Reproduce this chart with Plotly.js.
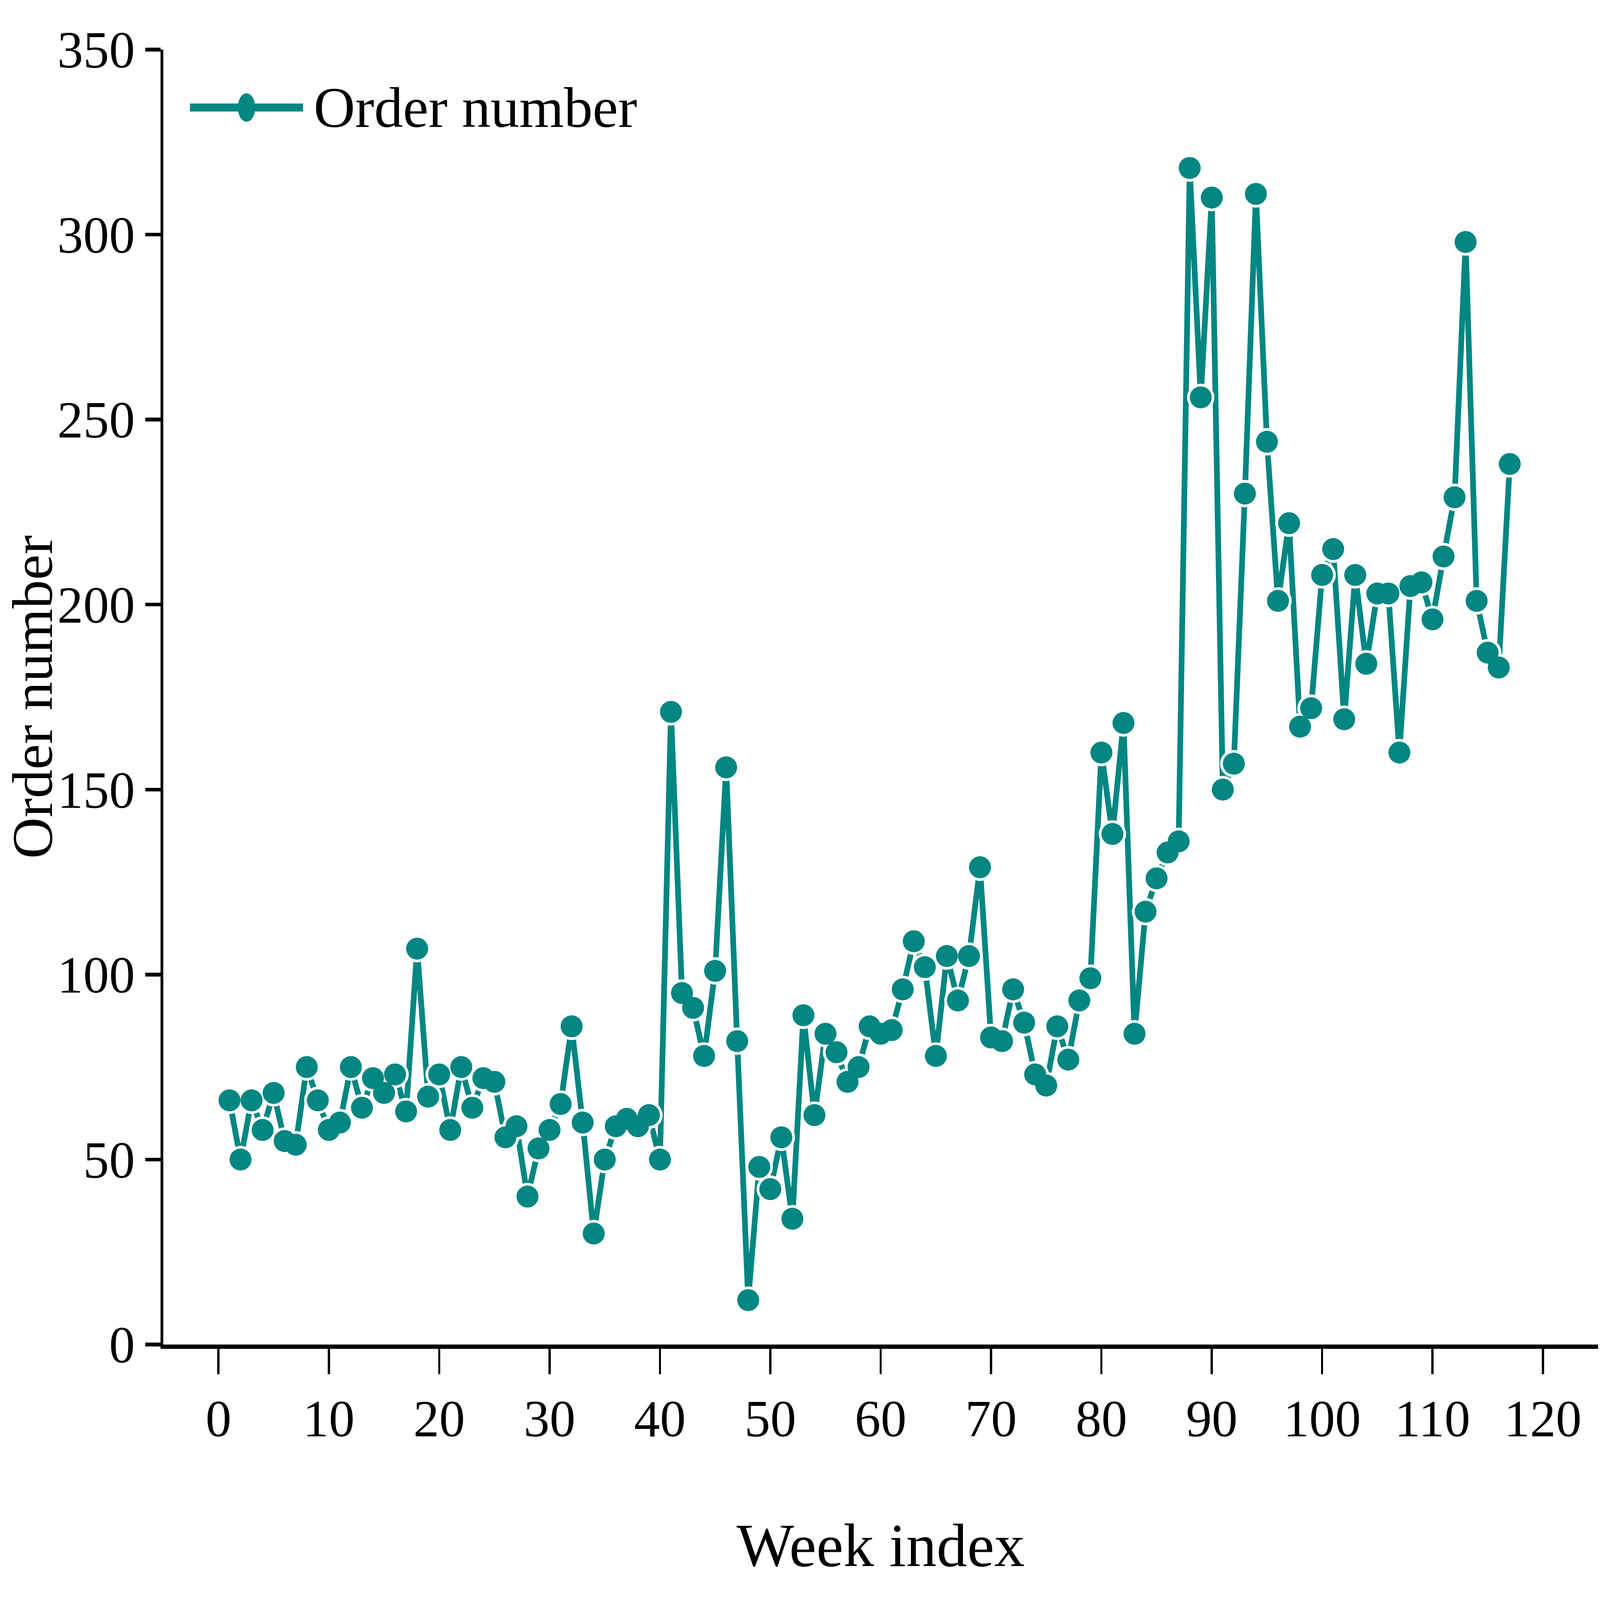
<!DOCTYPE html>
<html>
<head>
<meta charset="utf-8">
<script src="https://cdn.plot.ly/plotly-3.0.1.min.js"></script>
<style>html,body{margin:0;padding:0;background:#fff;overflow:hidden;}</style>
</head>
<body>
<div id="chart"></div>
<script>
// ---- data ----
const weeks = [];
for (let i = 1; i <= 117; i++) weeks.push(i);
const orders = [
  66, 50, 66, 58, 68, 55, 54, 75, 66, 58,
  60, 75, 64, 72, 68, 73, 63, 107, 67, 73,
  58, 75, 64, 72, 71, 56, 59, 40, 53, 58,
  65, 86, 60, 30, 50, 59, 61, 59, 62, 50,
  171, 95, 91, 78, 101, 156, 82, 12, 48, 42,
  56, 34, 89, 62, 84, 79, 71, 75, 86, 84,
  85, 96, 109, 102, 78, 105, 93, 105, 129, 83,
  82, 96, 87, 73, 70, 86, 77, 93, 99, 160,
  138, 168, 84, 117, 126, 133, 136, 318, 256, 310,
  150, 157, 230, 311, 244, 201, 222, 167, 172, 208,
  215, 169, 208, 184, 203, 203, 160, 205, 206, 196,
  213, 229, 298, 201, 187, 183, 238
];
const xTicks = [0, 10, 20, 30, 40, 50, 60, 70, 80, 90, 100, 110, 120];
const yTicks = [0, 50, 100, 150, 200, 250, 300, 350];
const seriesName = 'Order number';
const xTitle = 'Week index';
const yTitle = 'Order number';

// ---- sizing: designed for 7188x4365, fitted to the actual window ----
const RW = 7188, RH = 4365;
const W = window.innerWidth || RW, H = window.innerHeight || RH;
const sx = W / RW, sy = H / RH, k = Math.sqrt(sx * sy);
const kf = Math.min(sx, sy) + 0.25 * Math.abs(sy - sx); // text scale
document.getElementById('chart').style.width = W + 'px';
document.getElementById('chart').style.height = H + 'px';

const M = {l: 733 * sx, r: 8 * sx, t: 135 * sy, b: 697 * sy};
const teal = '#028682';
const font = 'Liberation Serif, Times New Roman, serif';
const px2paperX = p => (p * sx - M.l) / (W - M.l - M.r);
const px2paperY = p => 1 - (p * sy - M.t) / (H - M.t - M.b);

const traces = [
  {x: weeks, y: orders, mode: 'lines', line: {color: teal, width: 20 * k}, hoverinfo: 'skip', showlegend: false},
  {x: weeks, y: orders, mode: 'markers', marker: {color: '#ffffff', size: 96 * k}, hoverinfo: 'skip', showlegend: false, cliponaxis: false},
  {x: weeks, y: orders, mode: 'markers', marker: {color: teal, size: 77 * k}, name: seriesName, showlegend: false, cliponaxis: false}
];

const legY = px2paperY(293);
const tickFont = {family: font, size: 200 * kf, color: '#000'};

const layout = {
  width: W, height: H,
  margin: M,
  paper_bgcolor: '#fff', plot_bgcolor: '#fff',
  showlegend: false,
  xaxis: {
    range: [-5, 125], tickmode: 'array', tickvals: xTicks, ticktext: xTicks.map(String),
    showline: true, linecolor: '#000', linewidth: 12 * sy,
    ticks: 'outside', ticklen: 69 * sy, tickwidth: 10 * sx, tickcolor: '#000',
    ticklabelstandoff: -38 * sy,
    showgrid: false, zeroline: false, tickfont: tickFont,
    title: {text: xTitle, font: {family: font, size: 236 * kf, color: '#000'}, standoff: 212 * sy}
  },
  yaxis: {
    range: [0, 350], tickmode: 'array', tickvals: yTicks, ticktext: yTicks.map(String),
    showline: true, linecolor: '#000', linewidth: 12 * sx,
    ticks: 'outside', ticklen: 69 * sx, tickwidth: 10 * sy, tickcolor: '#000',
    ticklabelstandoff: 5 * sx,
    showgrid: false, zeroline: false, tickfont: tickFont
  },
  shapes: [
    {type: 'line', xref: 'paper', yref: 'paper', x0: px2paperX(853), x1: px2paperX(1361), y0: legY, y1: legY,
     line: {color: teal, width: 22 * sy}},
    {type: 'circle', xref: 'paper', yref: 'paper', xsizemode: 'pixel', ysizemode: 'pixel',
     xanchor: px2paperX(1107), yanchor: legY, x0: -39 * sx, x1: 39 * sx, y0: -39 * sy, y1: 39 * sy,
     fillcolor: teal, line: {width: 0}}
  ],
  annotations: [
    {xref: 'paper', yref: 'paper', x: px2paperX(1405), y: legY, xanchor: 'left', yanchor: 'middle',
     text: seriesName, showarrow: false, font: {family: font, size: 222 * kf, color: '#000'}},
    {xref: 'paper', yref: 'paper', x: px2paperX(145), y: 0.5, xanchor: 'center', yanchor: 'middle',
     textangle: -90, text: yTitle, showarrow: false, font: {family: font, size: 222 * kf, color: '#000'}}
  ]
};

Plotly.newPlot('chart', traces, layout, {displayModeBar: false, staticPlot: true});
</script>
</body>
</html>
